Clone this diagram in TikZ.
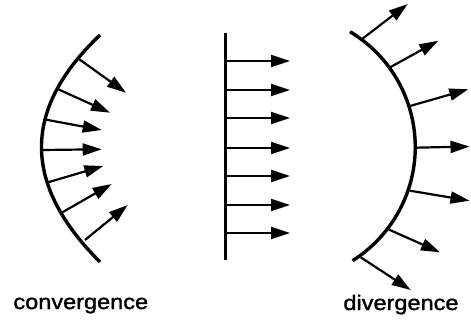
\documentclass[tikz,border=0pt]{standalone}
\usepackage{fontspec}
\usepackage{tikz}
\usetikzlibrary{arrows.meta}
\newfontfamily\labelfont[FakeStretch=1.12,FakeBold=1.5]{Liberation Sans}

\begin{document}
\begin{tikzpicture}[x=1pt,y=1pt,
  front/.style={line width=3.4pt},
  ray/.style={line width=2.2pt,-{Triangle[length=19pt,width=12pt]}},
  caption/.style={anchor=base,inner sep=0pt,font=\labelfont\fontsize{21}{25}\selectfont}]
  \useasboundingbox (0,0) rectangle (471,325);
  % convergence
  \draw[front] (100,290) .. controls (20,214) and (24,139) .. (100,63);
  \draw[ray] (79.3,265.7)--(126.0,232.3);
  \draw[ray] (58.3,235.7)--(110.0,212.3);
  \draw[ray] (44.0,205.7)--(101.7,195.0);
  \draw[ray] (41.7,175.0)--(101.7,175.7);
  \draw[ray] (46.7,142.3)--(103.3,159.0);
  \draw[ray] (61.7,112.3)--(111.7,141.0);
  \draw[ray] (85.0,85.0)--(127.7,120.0);
  % plane
  \draw[front] (225.7,291.7)--(225.7,65);
  \draw[ray] (225.7,264)--(290,264);
  \draw[ray] (225.7,235)--(290,235);
  \draw[ray] (225.7,207)--(290,207);
  \draw[ray] (225.7,177)--(290,177);
  \draw[ray] (225.7,149)--(290,149);
  \draw[ray] (225.7,120)--(290,120);
  \draw[ray] (225.7,92)--(290,92);
  % divergence
  \draw[front] (350,293.3) arc[start angle=59,end angle=-57.7,radius=134.5];
  \draw[ray] (361.7,285.7)--(407.7,321.0);
  \draw[ray] (388.3,256.7)--(438.3,284.3);
  \draw[ray] (410.0,219.0)--(468.3,235.7);
  \draw[ray] (415.3,177.3)--(469.5,178.5);
  \draw[ray] (410.0,134.3)--(469.5,124.3);
  \draw[ray] (388.3,95.7)--(440.0,72.7);
  \draw[ray] (360.7,67.7)--(410.7,35.0);
  \node[caption] (conv) at (80.8,16) {convergence};
  \node[caption] (div) at (401,15) {divergence};
\end{tikzpicture}
\end{document}
